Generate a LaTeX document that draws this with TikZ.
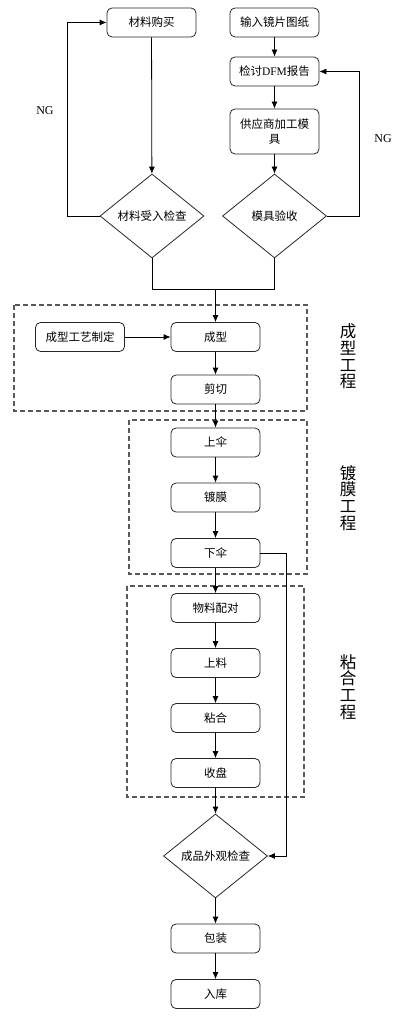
\documentclass[tikz,border=0pt]{standalone}
\usepackage{fontspec}
\setmainfont{Liberation Serif}
\newfontfamily\cjk{Noto Sans CJK SC}
\usetikzlibrary{shapes.geometric,arrows.meta}
\tikzset{
	% ---- default
	every path/.style={line width=0.8pt},
	every node/.style={font=\cjk\fontsize{11.5}{15}\selectfont},
	>={Latex[length=7pt,width=6pt]},
	% ---- custom
	process/.style={draw=black!85, rounded corners=5pt, minimum width=89pt, minimum height=29pt, inner sep=1pt, align=center},
	decision/.style={draw=black!85, diamond, minimum width=104pt, minimum height=84pt, inner sep=0pt},
	stage/.style={draw=black!65, dash pattern=on 5pt off 3pt, line width=1.1pt},
	stage label/.style={font=\cjk\fontsize{16.5}{16.8}\selectfont, align=center},
	flow/.style={->},
	ng/.style={font=\rmfamily\fontsize{12}{14}\selectfont},
}

\begin{document}
\begin{tikzpicture}[x=1pt, y=-1pt]

	\useasboundingbox (0,0) rectangle (407,1016);

% incoming material and mold %{{{2

	\node[process] (buy) at (151.5,22.5) {材料购买};
	\node[process] (drawing) at (274.5,22.5) {输入镜片图纸};
	\node[process] (dfm) at (274.5,71.5) {检讨{\rmfamily DFM}报告};
	\node[process, minimum height=45pt] (supplier) at (274.5,131.5) {供应商加工模\\具};
	\node[decision] (matcheck) at (152,216) {材料受入检查};
	\node[decision] (moldcheck) at (274.5,216) {模具验收};

	\node[ng] (ngL) at (45,111) {NG};
	\node[ng] (ngR) at (383,139) {NG};

	\coordinate (merge) at (215.5,289);

% forming %{{{2

	\draw[stage] (14,305) rectangle (307,411);
	\node[process] (recipe) at (80,337) {成型工艺制定};
	\node[process] (forming) at (215.5,337) {成型};
	\node[process] (cutting) at (215.5,389.5) {剪切};

% coating %{{{2

	\draw[stage] (129,420) rectangle (307,574);
	\node[process] (mount) at (215.5,442.5) {上伞};
	\node[process] (coating) at (215.5,497.5) {镀膜};
	\node[process] (unmount) at (215.5,553) {下伞};

% bonding %{{{2

	\draw[stage] (127,586) rectangle (304,797);
	\node[process] (pairing) at (215.5,608) {物料配对};
	\node[process] (loading) at (215.5,663) {上料};
	\node[process] (bonding) at (215.5,718) {粘合};
	\node[process] (tray) at (215.5,773) {收盘};

% final %{{{2

	\node[decision] (inspect) at (215.5,856) {成品外观检查};
	\node[process] (pack) at (215.5,938.5) {包装};
	\node[process] (store) at (215.5,994) {入库};

% stage labels %{{{2

	\node[stage label] (formLabel) at (348,356.5) {成\\型\\工\\程};
	\node[stage label] (coatLabel) at (348,498) {镀\\膜\\工\\程};
	\node[stage label] (bondLabel) at (348,687) {粘\\合\\工\\程};

% connectors %{{{2

	\draw[flow] (buy) -- (matcheck);
	\draw[flow] (matcheck.west) -- ++(-32,0) |- (buy.west);
	\draw[flow] (drawing) -- (dfm);
	\draw[flow] (dfm) -- (supplier);
	\draw[flow] (supplier) -- (moldcheck);
	\draw[flow] (moldcheck.east) -- ++(32,0) |- (dfm.east);
	\draw (matcheck.south) |- (merge);
	\draw (moldcheck.south) |- (merge);
	\draw[flow] (merge) -- (forming);

	\draw[flow] (recipe) -- (forming);
	\draw[flow] (forming) -- (cutting);
	\draw[flow] (cutting) -- (mount);
	\draw[flow] (mount) -- (coating);
	\draw[flow] (coating) -- (unmount);
	\draw[flow] (unmount) -- (pairing);
	\draw[flow] (unmount.east) -- ++(26,0) |- (inspect.east);
	\draw[flow] (pairing) -- (loading);
	\draw[flow] (loading) -- (bonding);
	\draw[flow] (bonding) -- (tray);
	\draw[flow] (tray) -- (inspect);
	\draw[flow] (inspect) -- (pack);
	\draw[flow] (pack) -- (store);

% closing %{{{2

\end{tikzpicture}
\end{document}
